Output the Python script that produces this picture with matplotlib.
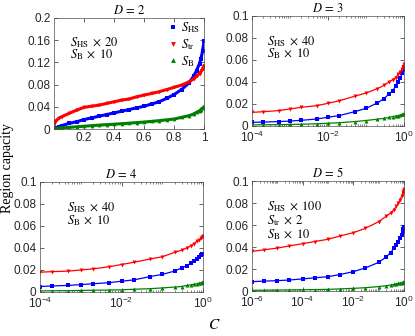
import numpy as np
import matplotlib
matplotlib.use('Agg')
import matplotlib.pyplot as plt
from matplotlib.ticker import LogLocator, FixedLocator, NullFormatter

plt.rcParams['font.family'] = ['Liberation Sans', 'DejaVu Sans']
plt.rcParams['mathtext.fontset'] = 'stix'

''' Data (read off the reference) '''

# D = 2, linear C axis
c_d2 = [0, 0.01, 0.03, 0.05, 0.1, 0.15, 0.2, 0.25, 0.3, 0.35, 0.4, 0.45, 0.5, 0.55,
        0.6, 0.65, 0.7, 0.75, 0.8, 0.85, 0.9, 0.93, 0.95, 0.97, 0.98, 0.99, 1.0]
hs_d2 = [0.0, 0.002, 0.004, 0.006, 0.010, 0.013, 0.017, 0.020, 0.023, 0.026, 0.029, 0.032,
         0.035, 0.038, 0.041, 0.045, 0.049, 0.055, 0.062, 0.071, 0.083, 0.095, 0.105,
         0.118, 0.127, 0.140, 0.158]
tr_d2 = [0.008, 0.014, 0.019, 0.022, 0.028, 0.034, 0.039, 0.041, 0.043, 0.046, 0.049, 0.052,
         0.054, 0.058, 0.061, 0.064, 0.067, 0.071, 0.075, 0.079, 0.085, 0.090, 0.095,
         0.100, 0.104, 0.108, 0.114]
b_d2 = [0.0, 0.001, 0.0015, 0.002, 0.003, 0.004, 0.005, 0.006, 0.007, 0.0078, 0.0086, 0.0095,
        0.0105, 0.0115, 0.0125, 0.0137, 0.015, 0.0165, 0.018, 0.021, 0.024, 0.027, 0.030,
        0.033, 0.035, 0.037, 0.040]

# D = 3 and D = 4, log C axis
c_d34 = [1e-4, 2e-4, 5e-4, 1e-3, 2e-3, 5e-3, 0.01, 0.02, 0.05, 0.1, 0.2, 0.3, 0.4, 0.5,
         0.6, 0.7, 0.8, 0.9, 0.95, 1.0]
hs_d3 = [0.0033, 0.0036, 0.004, 0.0045, 0.0052, 0.0063, 0.008, 0.0095, 0.013, 0.016, 0.021,
         0.025, 0.029, 0.032, 0.036, 0.040, 0.044, 0.048, 0.051, 0.054]
tr_d3 = [0.0124, 0.013, 0.014, 0.0155, 0.017, 0.0185, 0.0206, 0.023, 0.027, 0.030, 0.034,
         0.037, 0.040, 0.042, 0.044, 0.047, 0.049, 0.052, 0.054, 0.056]
b_d3 = [0.001, 0.0011, 0.0012, 0.0014, 0.0016, 0.002, 0.0025, 0.003, 0.004, 0.005, 0.0062,
        0.007, 0.0078, 0.0085, 0.009, 0.0095, 0.010, 0.0105, 0.0108, 0.011]

hs_d4 = [0.005, 0.0055, 0.006, 0.0067, 0.0075, 0.0085, 0.0098, 0.011, 0.014, 0.016, 0.019,
         0.022, 0.024, 0.026, 0.028, 0.030, 0.032, 0.034, 0.0345, 0.035]
tr_d4 = [0.018, 0.0185, 0.019, 0.020, 0.021, 0.023, 0.025, 0.027, 0.030, 0.032, 0.036,
         0.038, 0.040, 0.042, 0.044, 0.046, 0.047, 0.049, 0.050, 0.051]
b_d4 = [0.001, 0.0011, 0.0012, 0.0014, 0.0016, 0.0018, 0.002, 0.0025, 0.003, 0.0037, 0.0045,
        0.005, 0.006, 0.0065, 0.007, 0.0075, 0.008, 0.0085, 0.0088, 0.009]

# D = 5, log C axis
c_d5 = [1e-6, 3e-6, 1e-5, 3e-5, 1e-4, 3e-4, 1e-3, 3e-3, 1e-2, 0.03, 0.1, 0.2, 0.3, 0.4,
        0.5, 0.6, 0.7, 0.8, 0.9, 0.95, 1.0]
hs_d5 = [0.0085, 0.009, 0.0094, 0.010, 0.011, 0.012, 0.013, 0.015, 0.0176, 0.021, 0.026,
         0.031, 0.035, 0.039, 0.042, 0.045, 0.048, 0.051, 0.054, 0.056, 0.058]
tr_d5 = [0.036, 0.0375, 0.039, 0.041, 0.043, 0.045, 0.047, 0.050, 0.053, 0.057, 0.063,
         0.068, 0.071, 0.074, 0.077, 0.080, 0.083, 0.086, 0.089, 0.091, 0.093]
b_d5 = [0.0006, 0.0007, 0.0008, 0.001, 0.0011, 0.0013, 0.0015, 0.0019, 0.0024, 0.003, 0.004,
        0.0048, 0.0054, 0.006, 0.0065, 0.007, 0.0073, 0.0076, 0.0079, 0.008, 0.0082]

notes = {
    2: [r'$S_{\rm HS}\;\times\;20$', r'$S_{\rm B}\;\times\;10$'],
    3: [r'$S_{\rm HS}\;\times\;40$', r'$S_{\rm B}\;\times\;10$'],
    4: [r'$S_{\rm HS}\;\times\;40$', r'$S_{\rm B}\;\times\;10$'],
    5: [r'$S_{\rm HS}\;\times\;100$', r'$S_{\rm tr}\;\times\;2$', r'$S_{\rm B}\;\times\;10$'],
}

''' Styles '''

BLUE, RED, GREEN = '#0000ff', '#ff0000', '#008000'
TXT = '#262626'

fig = plt.figure(figsize=(4.15, 3.36), dpi=100)
W, H = 415, 336

def add_axes(left, top, right, bottom):
    return fig.add_axes([left / W, 1 - bottom / H, (right - left) / W, (bottom - top) / H])

ax2 = add_axes(54, 18, 204, 129)
ax3 = add_axes(252, 16, 404, 126)
ax4 = add_axes(40, 182, 203, 292)
ax5 = add_axes(252, 181, 404, 291)

def style(ax):
    ax.tick_params(which='both', direction='in', top=True, right=True,
                   labelsize=8.5, colors=TXT, pad=2.5)
    ax.tick_params(which='major', length=3, width=0.5)
    ax.tick_params(which='minor', length=1.6, width=0.4)
    for s in ax.spines.values():
        s.set_linewidth(0.5)
        s.set_color('0.3')

def curves(ax, c, hs, tr, b, lw, ms):
    h1, = ax.plot(c, hs, color=BLUE, marker='s', ms=ms, lw=lw, mew=0)
    h2, = ax.plot(c, tr, color=RED, marker='v', ms=ms + 0.5, lw=lw, mew=0)
    h3, = ax.plot(c, b, color=GREEN, marker='^', ms=ms + 0.5, lw=lw, mew=0)
    return h1, h2, h3

def annotate(ax, lines, x, ys):
    for t, y in zip(lines, ys):
        ax.text(x, y, t, transform=ax.transAxes, fontsize=9, va='center', ha='left',
                color='black')

# D = 2
h = curves(ax2, c_d2, hs_d2, tr_d2, b_d2, 2.2, 2.2)
ax2.set_xlim(0, 1)
ax2.set_ylim(0, 0.2)
ax2.set_xticks([0.2, 0.4, 0.6, 0.8, 1.0])
ax2.set_xticklabels(['0.2', '0.4', '0.6', '0.8', '1'])
ax2.set_yticks([0, 0.04, 0.08, 0.12, 0.16, 0.2])
ax2.set_yticklabels(['0', '0.04', '0.08', '0.12', '0.16', '0.2'])
annotate(ax2, notes[2], 0.11, [0.775, 0.67])
leg = ax2.legend(h, [r'$S_{\rm HS}$', r'$S_{\rm tr}$', r'$S_{\rm B}$'], loc='upper right',
                 frameon=False, fontsize=9, handlelength=0.6, handletextpad=0.4,
                 labelspacing=0.15, borderaxespad=0.15, markerscale=1.3,
                 bbox_to_anchor=(1.02, 1.04))
for lh in leg.legend_handles:
    lh.set_linestyle('none')

# D = 3, 4, 5 (log C)
for ax, c, hs, tr, b, xmin, majors in [
        (ax3, c_d34, hs_d3, tr_d3, b_d3, 1e-4, [1e-4, 1e-2, 1e0]),
        (ax4, c_d34, hs_d4, tr_d4, b_d4, 1e-4, [1e-4, 1e-2, 1e0]),
        (ax5, c_d5, hs_d5, tr_d5, b_d5, 1e-6, [1e-6, 1e-4, 1e-2, 1e0])]:
    curves(ax, c, hs, tr, b, 0.9, 2.4)
    ax.set_xscale('log')
    ax.set_xlim(xmin, 1)
    ax.set_ylim(0, 0.1)
    ax.xaxis.set_major_locator(FixedLocator(majors))
    ax.xaxis.set_minor_locator(LogLocator(base=10, subs=np.arange(1, 10), numticks=30))
    ax.xaxis.set_minor_formatter(NullFormatter())
    ax.set_xticklabels([r'$\mathregular{10^{%d}}$' % int(round(np.log10(m))) for m in majors])
    ax.set_yticks([0, 0.02, 0.04, 0.06, 0.08, 0.1])
    ax.set_yticklabels(['0', '0.02', '0.04', '0.06', '0.08', '0.1'])

annotate(ax3, notes[3], 0.10, [0.77, 0.655])
annotate(ax4, notes[4], 0.165, [0.77, 0.645])
annotate(ax5, notes[5], 0.10, [0.765, 0.64, 0.515])

for ax, d in [(ax2, 2), (ax3, 3), (ax4, 4), (ax5, 5)]:
    style(ax)
    ax.set_title(r'$D\,=\,%d$' % d, fontsize=9, pad=3)

fig.text(0.018, 0.5, 'Region capacity', rotation=90, va='center', ha='center',
         family='Liberation Serif', fontsize=10)
fig.text(214 / W, 1 - 325 / H, r'$C$', ha='center', va='center', fontsize=11)

fig.savefig('out.png', dpi=100)
